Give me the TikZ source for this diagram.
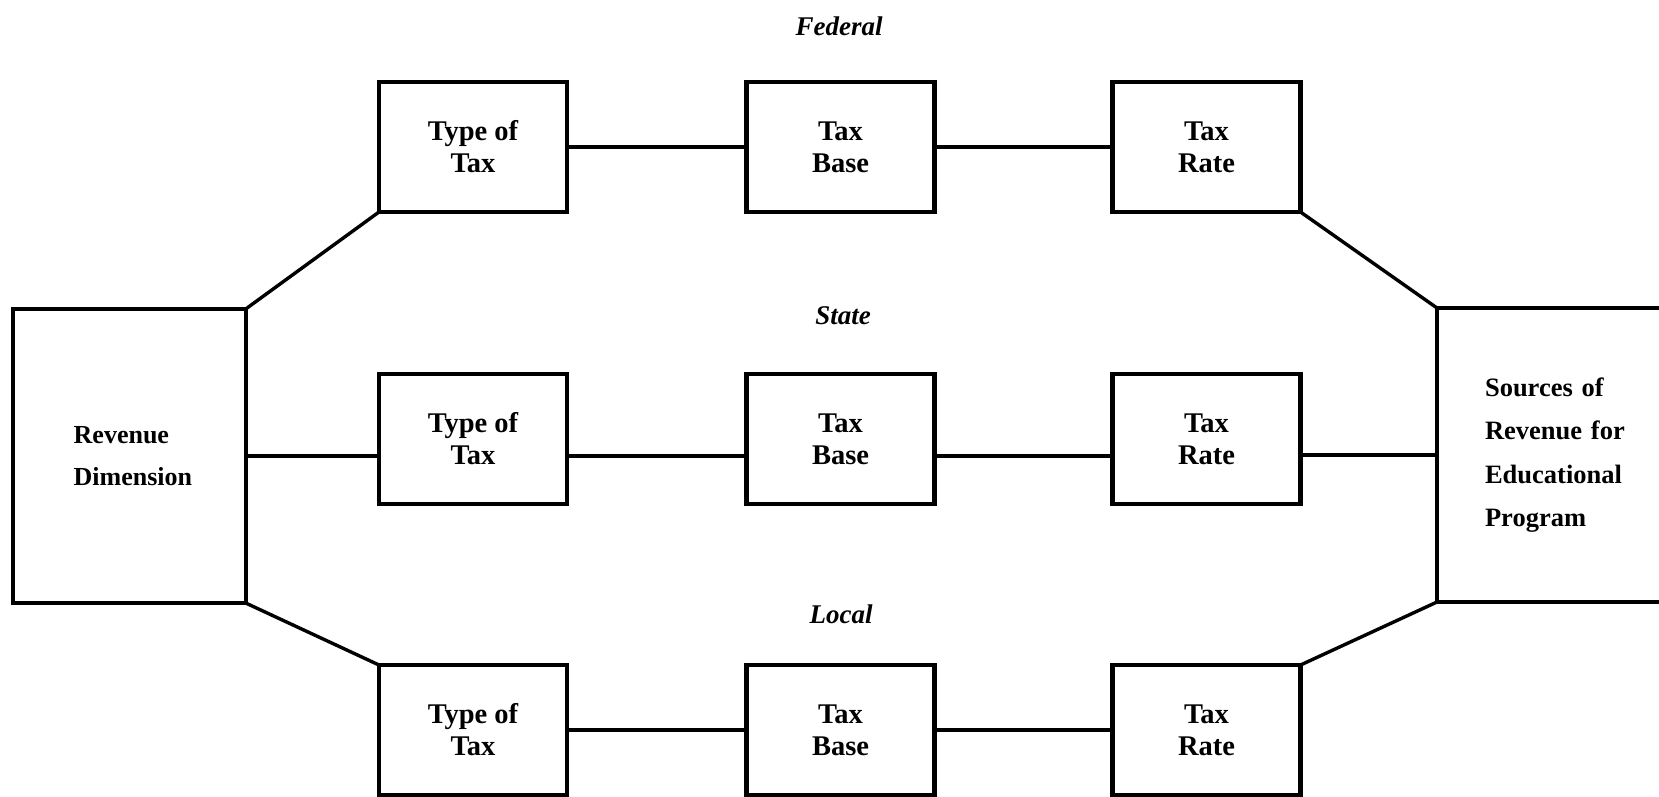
\documentclass[tikz,border=0pt]{standalone}
\usepackage{fontspec}
\setmainfont{Liberation Serif}
\begin{document}
\begin{tikzpicture}[x=1pt,y=-1pt,
  box/.style={draw,line width=4.2pt,minimum width=188pt,minimum height=130pt,inner sep=0pt,outer sep=0pt,align=center,font=\bfseries\fontsize{28.5}{32}\selectfont},
  bigbox/.style={draw,line width=4.2pt,minimum height=294pt,anchor=west,inner ysep=0pt,outer sep=0pt,align=left},
  level/.style={font=\bfseries\itshape\fontsize{27}{32}\selectfont},
  link/.style={line width=3.4pt}]
\useasboundingbox (0,0) rectangle (1659,797);
\clip (0,0) rectangle (1659,797);

% side boxes
\node[bigbox,text width=111pt,inner xsep=61pt,font=\bfseries\fontsize{26}{42}\selectfont] (L) at (12.7,456) {Revenue\\Dimension};
\node[bigbox,text width=180pt,inner xsep=48pt,font=\bfseries\fontsize{26.5}{43.5}\selectfont] (R) at (1437,455) {Sources of\\Revenue for\\Educational\\Program};

% level labels
\node[level] (fed) at (839,26.5) {Federal};
\node[level] (sta) at (843,316) {State};
\node[level] (loc) at (841,614) {Local};

% federal row
\node[box] (f1) at (473,147) {Type of\\Tax};
\node[box] (f2) at (840.5,147) {Tax\\Base};
\node[box] (f3) at (1206.5,147) {Tax\\Rate};
% state row
\node[box] (s1) at (473,439) {Type of\\Tax};
\node[box] (s2) at (840.5,439) {Tax\\Base};
\node[box] (s3) at (1206.5,439) {Tax\\Rate};
% local row
\node[box] (l1) at (473,730) {Type of\\Tax};
\node[box] (l2) at (840.5,730) {Tax\\Base};
\node[box] (l3) at (1206.5,730) {Tax\\Rate};

% connectors
\draw[link] (L.north east) -- (f1.south west);
\draw[link] (f1.east) -- (f2.west);
\draw[link] (f2.east) -- (f3.west);
\draw[link] (f3.south east) -- (R.north west);

\draw[link] (L.east) -- (L.east -| s1.west);
\draw[link] (s1.east |- L.east) -- (s2.west |- L.east);
\draw[link] (s2.east |- L.east) -- (s3.west |- L.east);
\draw[link] (s3.east |- R.west) -- (R.west);

\draw[link] (L.south east) -- (l1.north west);
\draw[link] (l1.east) -- (l2.west);
\draw[link] (l2.east) -- (l3.west);
\draw[link] (l3.north east) -- (R.south west);
\end{tikzpicture}
\end{document}
